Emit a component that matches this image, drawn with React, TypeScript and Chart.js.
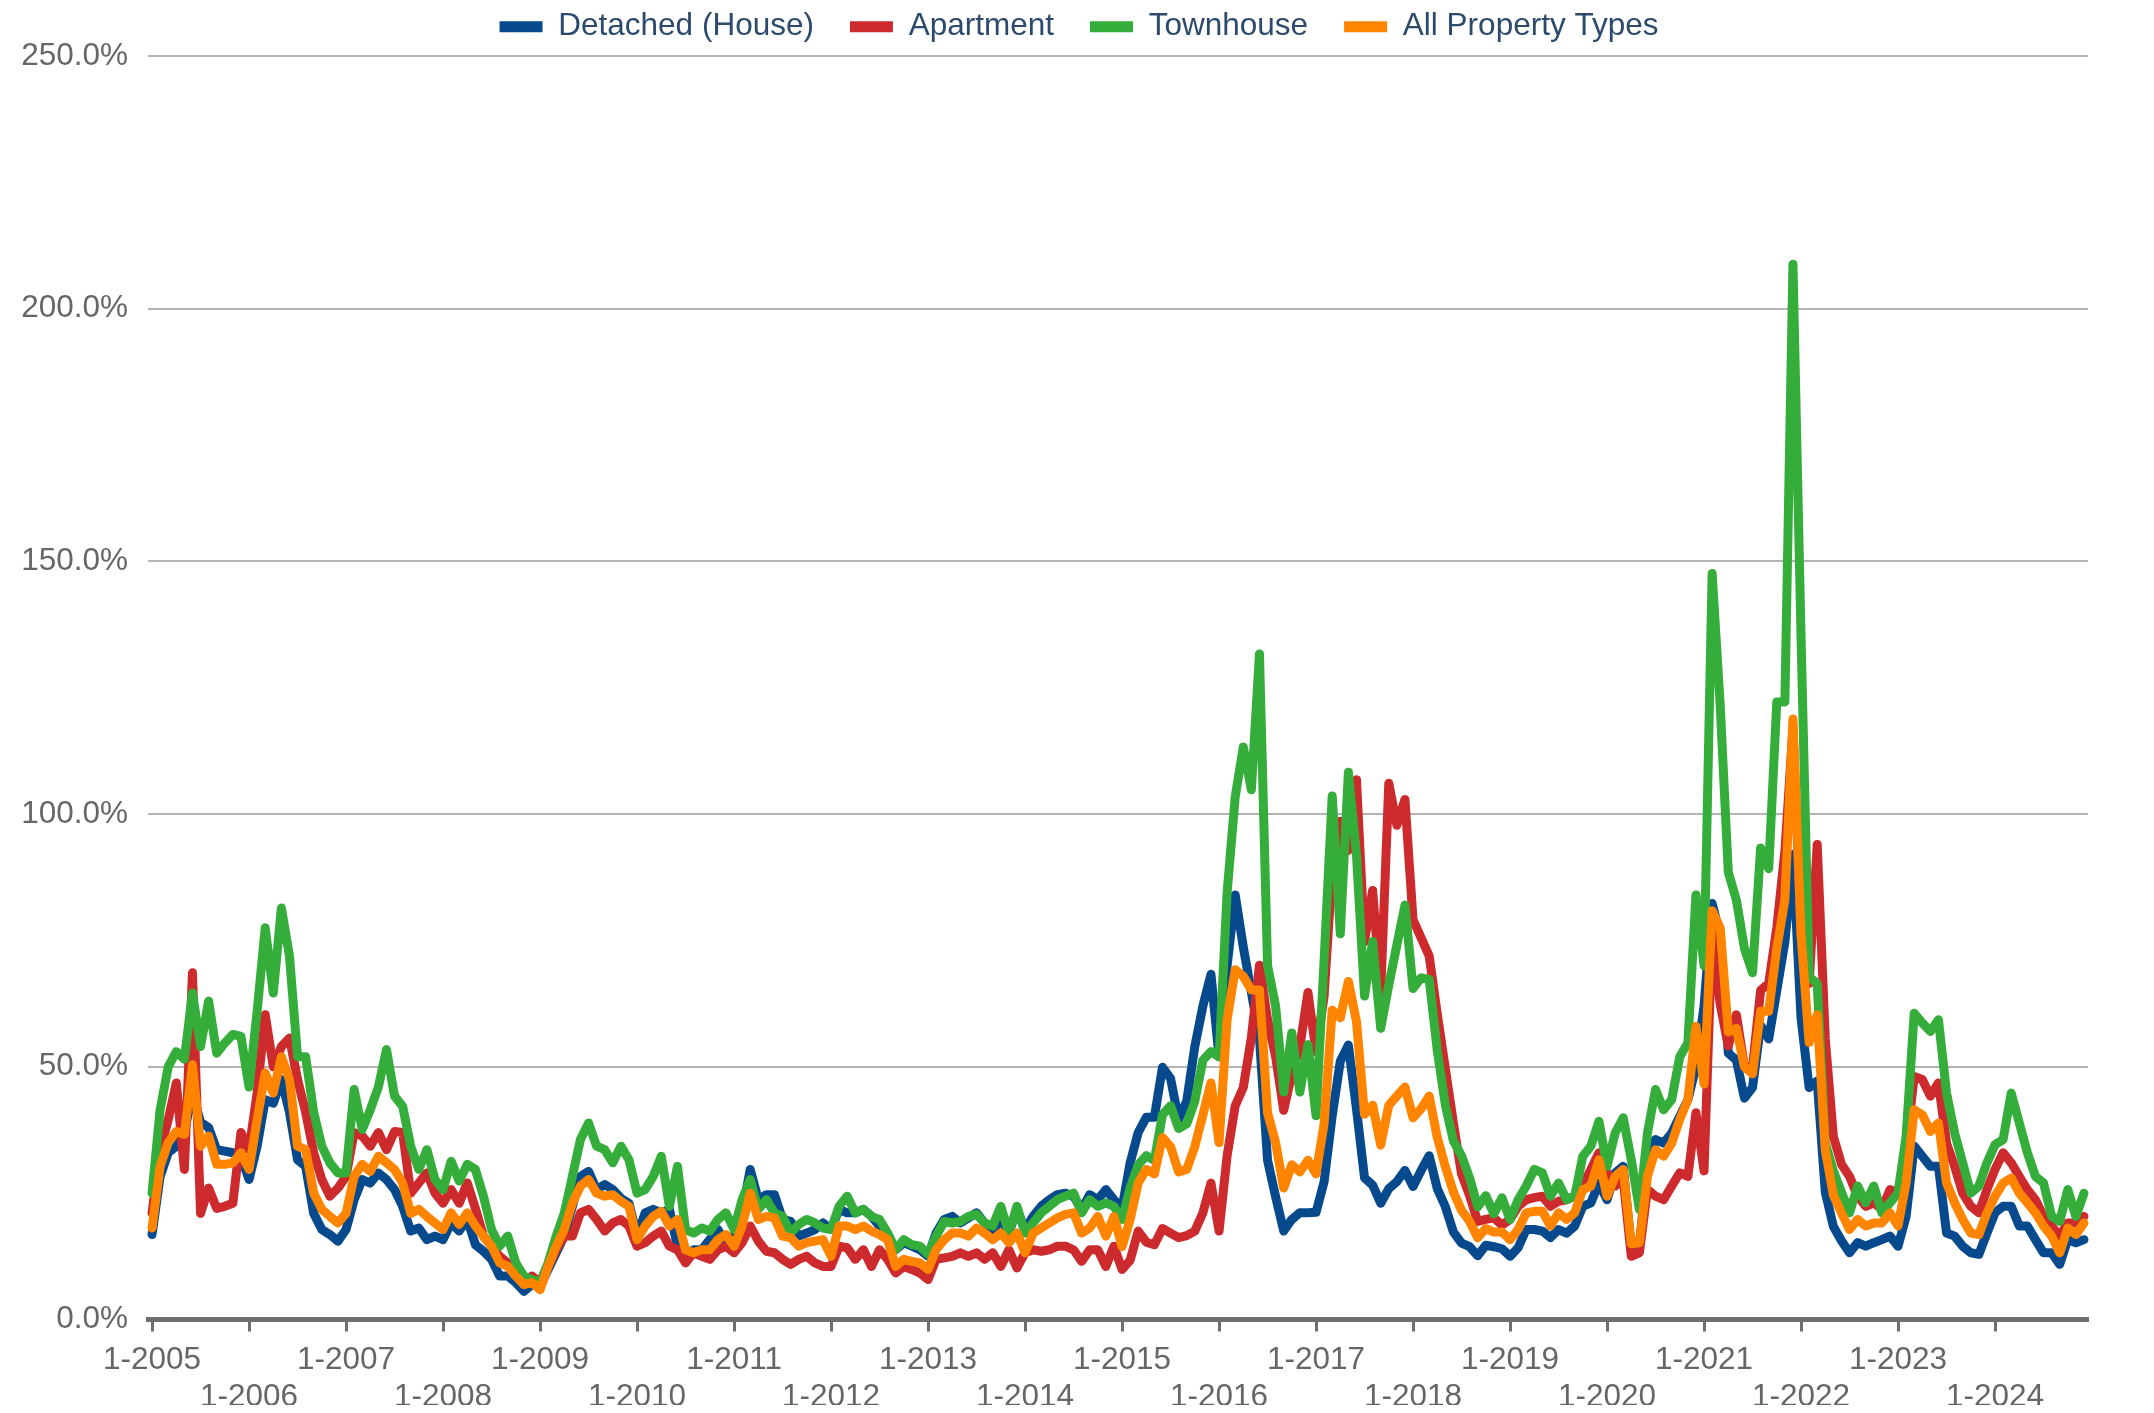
import { useEffect, useRef } from 'react';
import { Chart, registerables } from 'chart.js';

Chart.register(...registerables);

// ---------- data ----------
const FIRST_YEAR = 2005;
const LAST_YEAR = 2024;

const SERIES_NAMES = ['Detached (House)', 'Apartment', 'Townhouse', 'All Property Types'];
const SERIES_COLORS = ['#064a8d', '#cc2a2c', '#35ad3a', '#ff8400'];

// monthly values (%), one row per year Jan..Dec, 2005..2024
const DETACHED = [
  16.8, 28.3, 33, 34.3, 37, 45, 39, 38, 33.6, 33.3, 33, 32.3,
  27.7, 34.3, 43.5, 42.8, 47.5, 41, 31.6, 30.3, 21, 17.8, 16.8, 15.5,
  17.8, 23.7, 27.7, 27, 29, 27.7, 25.7, 22.4, 17.5, 18.1, 15.8, 16.5,
  15.8, 19.1, 17.5, 19.8, 14.8, 13.5, 11.9, 8.6, 8.6, 7.3, 5.6, 6.9,
  6.6, 9.9, 13.2, 16.5, 22.4, 28.3, 29.3, 25.7, 26.7, 25.7, 24, 23,
  16.5, 21.1, 21.8, 21.1, 21.8, 14.5, 12.5, 13.8, 13.8, 15.8, 17.8, 15.2,
  16.5, 21, 29.7, 23.7, 24.7, 24.7, 19.8, 19.4, 16.5, 17.1, 17.8, 19.1,
  17.8, 21.8, 21.1, 21.1, 21.8, 20.4, 18.5, 15.8, 13.8, 15.2, 14.5, 13.8,
  12.5, 17.1, 19.8, 20.4, 19.1, 20.1, 21.1, 19.1, 17.5, 19.8, 17.1, 21.8,
  17.8, 20.4, 22.4, 23.7, 24.7, 25, 24.4, 21.8, 24.7, 23.7, 25.7, 23.7,
  22, 31, 37, 40, 40, 49.9, 47.7, 39.6, 43.2, 54, 62, 68.3,
  52, 70, 84, 73.7, 64.7, 55.7, 31.5, 24.3, 17.5, 19.8, 21.1, 21.1,
  21.2, 27.3, 40.3, 51.1, 54.3, 41.7, 28, 26.6, 23, 25.9, 27.3, 29.5,
  26.3, 29.5, 32.4, 25.9, 22.3, 17.3, 15.1, 14.4, 12.6, 14.7, 14.4, 14,
  12.5, 14.2, 17.8, 17.8, 17.5, 16.2, 17.8, 17.1, 18.5, 22.4, 23.1, 27,
  23.7, 29, 30.3, 14, 14.8, 30.3, 35.6, 34.9, 36.9, 40.2, 43.5, 50,
  62, 82.3, 76.1, 52.7, 51.3, 43.8, 45.9, 58.2, 55.5, 65.1, 74.7, 92,
  59.6, 45.9, 47.2, 25.2, 18.4, 15.6, 13.2, 15.2, 14.5, 15.2, 15.8, 16.5,
  14.5, 20.4, 34.3, 32.3, 30.3, 30.3, 17.1, 16.5, 14.5, 13.2, 12.9, 17.1,
  21.1, 22.4, 22.4, 18.5, 18.5, 15.8, 13.2, 13.2, 10.9, 15.8, 15.2, 15.8,
];

const APARTMENT = [
  21, 33.6, 39.5, 46.8, 29.7, 68.6, 21, 26, 22, 22.4, 23, 37,
  33.6, 44.8, 60.3, 50, 54, 55.7, 47.5, 41, 33, 27.7, 24.4, 26,
  28.3, 37, 36.3, 34.3, 37, 33.6, 37.2, 37, 25, 27, 29, 25,
  23, 25.7, 23, 27, 22, 16.5, 14.5, 12.5, 11.2, 8.6, 7.3, 8.6,
  7.3, 10.5, 13.8, 16.5, 16.5, 21.1, 21.8, 19.8, 17.5, 19.1, 19.8, 18.5,
  14.5, 15.2, 16.5, 17.5, 14.5, 13.8, 11.2, 13.2, 12.5, 11.9, 13.8, 14.5,
  13.2, 15.2, 18.5, 15.5, 13.5, 13.2, 11.9, 10.9, 11.9, 12.5, 11.2, 10.5,
  10.5, 14.5, 14.2, 11.9, 13.8, 10.5, 13.8, 11.9, 9.2, 10.5, 9.9, 9.2,
  7.9, 11.9, 12.2, 12.5, 13.2, 12.5, 13.2, 11.9, 13.2, 10.5, 13.8, 10.2,
  13.2, 13.8, 13.5, 13.8, 14.5, 14.5, 13.8, 11.5, 13.8, 13.8, 10.5, 14.5,
  9.9, 11.7, 17.5, 15.3, 14.8, 18, 17.1, 16.2, 16.6, 17.5, 21.1, 27,
  17.5, 32.4, 42.3, 45.9, 55.8, 70.1, 59.4, 52, 41.4, 48.6, 54, 64.7,
  53, 64, 89, 98.6, 92.8, 106.8, 74.8, 84.9, 64.7, 106.1, 97.8, 102.9,
  79.1, 75.5, 71.9, 60.4, 49.6, 38.8, 28.8, 24.5, 19.4, 19.8, 20.1, 18.7,
  19.8, 22.4, 23.7, 24.1, 24.4, 22.4, 23.4, 23.7, 24.4, 26.4, 29.7, 33,
  29, 26.4, 27.7, 12.5, 13.2, 25.7, 24.4, 23.7, 26.4, 29, 28.3, 40.9,
  29.4, 76.1, 62.4, 54.1, 60.3, 50, 50, 65.1, 66.5, 77.5, 92.6, 117,
  76, 66.5, 94, 55.5, 36.2, 30.7, 28.3, 24.4, 22.4, 23.1, 21.8, 25.7,
  25, 34.3, 48.1, 47.5, 44.2, 46.8, 34.9, 30.3, 25, 22.4, 21.1, 25.7,
  29.7, 33, 31, 28.3, 25.7, 23.7, 20.4, 18.5, 16.5, 19.1, 19.1, 20.4,
];

const TOWNHOUSE = [
  25, 41.5, 50, 53, 51.5, 64.6, 54, 63, 52.7, 54.7, 56.4, 56,
  46, 61, 77.5, 64.6, 81.4, 71.9, 52, 52, 41, 34.3, 31, 29,
  29, 45.5, 37.6, 41.5, 46, 53.4, 44.2, 42.2, 34.3, 29.7, 33.6, 27.7,
  25.7, 31.3, 27.4, 30.7, 29.7, 24.4, 17.8, 14.5, 16.5, 11.2, 8.6, 7.9,
  7.3, 11.2, 16.5, 21.1, 28.3, 35.6, 38.9, 34.3, 33.6, 31, 34.3, 31.6,
  25, 25.7, 28.3, 32.3, 22.4, 30.3, 17.8, 17.1, 18.1, 17.5, 19.8, 21.1,
  17.8, 23.7, 27.7, 21.8, 23.7, 21.1, 20.4, 17.1, 18.8, 19.8, 19.1, 18.1,
  17.8, 22.4, 24.4, 21.1, 21.8, 20.4, 19.8, 17.1, 13.8, 15.8, 14.8, 14.5,
  12.9, 16.5, 19.4, 19.1, 19.4, 20.4, 20.8, 19.1, 18.5, 22.4, 17.1, 22.4,
  17.1, 19.1, 21.1, 22.4, 23.7, 24.4, 25, 21.1, 23.7, 22.4, 23.1, 22.4,
  19.8, 26, 30.6, 32.4, 31.5, 40.5, 42.3, 37.8, 38.7, 43.2, 51.3, 53,
  52, 84.5, 103.4, 113.3, 104.8, 131.7, 70, 62, 45, 56.7, 45, 54.4,
  40.3, 71.2, 103.6, 76.3, 108.3, 92, 64, 74.8, 57.6, 66.2, 74.1, 82,
  65.5, 67.6, 67.3, 53.2, 42.4, 35.3, 32.4, 28, 22.3, 24.5, 20.9, 24.1,
  19.8, 23.7, 26.4, 29.7, 29, 24.4, 27, 23.7, 24.4, 32.3, 34.3, 39.2,
  30.3, 36.9, 39.9, 31.6, 21.8, 36.9, 45.5, 41.5, 43.5, 52, 54.7, 84,
  70, 147.6, 121.5, 88.5, 83, 73.4, 68.6, 93.3, 89.2, 122.2, 122.2, 208.8,
  135, 67.8, 66.5, 34.9, 29.4, 25.2, 21.1, 26.4, 23.1, 26.4, 21.1, 23.1,
  25, 36.3, 60.6, 58.7, 57, 59.3, 44.8, 36.9, 31, 25, 26.4, 31,
  34.6, 35.6, 44.8, 38.9, 33, 28.3, 27, 20.4, 19.4, 25.7, 20.4, 25,
];

const ALL_TYPES = [
  18.1, 30.3, 35, 37.2, 36.6, 50.4, 34.3, 36.3, 30.7, 30.7, 31, 33,
  29.7, 39.5, 48.8, 44.8, 52, 47.5, 34.3, 33.6, 25, 21.8, 20.4, 19.1,
  21, 28.3, 30.7, 29.3, 32.3, 31, 29.7, 27, 21, 21.8, 20.4, 19.1,
  17.8, 21.1, 18.8, 21.1, 18.5, 16.5, 14.5, 11.2, 10.5, 8.6, 6.9, 7.3,
  5.9, 10.5, 14.5, 17.8, 23, 26.4, 27.7, 25, 24.4, 24.7, 23.4, 22.4,
  15.8, 18.5, 20.4, 21.4, 18.5, 19.8, 13.8, 13.2, 13.8, 13.8, 15.8, 16.8,
  14.5, 18.5, 25, 19.8, 20.4, 20.1, 16.5, 16.2, 14.5, 15.2, 15.5, 15.8,
  12.5, 18.5, 18.5, 17.8, 18.5, 17.5, 16.8, 15.8, 10.5, 11.9, 11.5, 11.2,
  9.9, 13.8, 15.8, 17.1, 17.1, 16.5, 18.1, 17.1, 15.8, 17.1, 15.2, 17.1,
  13.2, 17.1, 18.1, 19.1, 20.1, 20.8, 21.1, 17.1, 18.1, 20.4, 16.5, 20.4,
  14.4, 19.8, 27, 29.7, 28.8, 36, 34.2, 29.2, 29.7, 34.2, 40.5, 46.8,
  35, 59.4, 69.2, 67.9, 65.2, 65.2, 40.9, 35, 26, 30.6, 29.2, 31.5,
  28.8, 38.8, 61.2, 59.7, 66.9, 59, 40.6, 42.4, 34.5, 42.4, 44.2, 46,
  39.9, 41.7, 44.2, 36, 30.2, 25.2, 21.6, 19.4, 16.2, 18, 17.3, 17.3,
  15.8, 17.8, 21.1, 21.4, 21.4, 18.5, 21.1, 19.8, 21.1, 25.7, 26.4, 31.6,
  24.4, 28.3, 29.7, 15, 15.2, 28.3, 33.6, 32.3, 34.9, 39.6, 43.5, 58,
  46.6, 80.9, 77.5, 56.9, 57.6, 50, 48.6, 61, 61, 73.4, 83, 118.8,
  76.1, 54.8, 60.3, 33.5, 24.6, 21.1, 17.8, 19.8, 18.5, 19.1, 19.1, 21.1,
  18.5, 27, 41.5, 40.5, 37.2, 38.9, 27, 23.1, 19.8, 17.1, 16.8, 21.1,
  24.4, 27, 28, 25, 23.1, 21.1, 18.5, 16.5, 13.2, 18.1, 16.8, 19.1,
];

const Y_MIN = 0;
const Y_MAX = 250;
const Y_STEP = 50;

// category labels "M-YYYY"
const MONTH_LABELS: string[] = [];
for (let y = FIRST_YEAR; y <= LAST_YEAR; y++) {
  for (let m = 1; m <= 12; m++) MONTH_LABELS.push(`${m}-${y}`);
}

// ---------- styling ----------
const FONT_FAMILY = "'Liberation Sans', Arial, Helvetica, sans-serif";
const FONT_SIZE = 31.5;
const TICK_COLOR = '#666666';
const LEGEND_COLOR = '#2c4a6c';
const AXIS_COLOR = '#6e6e6e';
const GRID_COLOR = '#b4b4b4';

const LEGEND_HEIGHT = 48;
const LEGEND_DX = 24;
const LEGEND_DY = -33;
const Y_AXIS_WIDTH = 126;
const X_AXIS_HEIGHT = 85.5;

const legendTweak = {
  id: 'legendTweak',
  beforeLayout(chart: any) {
    const lg = chart.legend;
    if (!lg || lg.__tweaked) return;
    lg.__tweaked = true;
    const fit = lg.fit;
    lg.fit = function () {
      fit.call(this);
      this.height = LEGEND_HEIGHT;
    };
    const draw = lg.draw;
    lg.draw = function () {
      const { top, left, right } = this;
      this.top = top + LEGEND_DY;
      this.left = left + LEGEND_DX;
      this.right = right + LEGEND_DX;
      draw.call(this);
      this.top = top;
      this.left = left;
      this.right = right;
    };
  },
};

export default function App() {
  const canvasRef = useRef<HTMLCanvasElement | null>(null);

  useEffect(() => {
    if (!canvasRef.current) return;
    const seriesData = [DETACHED, APARTMENT, TOWNHOUSE, ALL_TYPES];
    const drawOrder = [3, 2, 1, 0]; // orange on top, blue at bottom
    const font = { family: FONT_FAMILY, size: FONT_SIZE };

    const chart = new Chart(canvasRef.current, {
      type: 'line',
      data: {
        labels: MONTH_LABELS,
        datasets: SERIES_NAMES.map((name, i) => ({
          label: name,
          data: seriesData[i],
          borderColor: SERIES_COLORS[i],
          backgroundColor: SERIES_COLORS[i],
          borderWidth: 9,
          pointRadius: 0,
          pointHoverRadius: 0,
          tension: 0,
          fill: false,
          borderJoinStyle: 'round',
          borderCapStyle: 'round',
          order: drawOrder[i],
        })),
      },
      options: {
        animation: false,
        responsive: true,
        maintainAspectRatio: false,
        devicePixelRatio: 1,
        layout: { padding: { top: 0, left: 14, right: 58, bottom: 0 } },
        plugins: {
          tooltip: { enabled: false },
          legend: {
            display: true,
            position: 'top',
            labels: {
              font,
              color: LEGEND_COLOR,
              boxWidth: 43,
              boxHeight: 11,
              padding: 36,
              sort: (a: any, b: any) => a.datasetIndex - b.datasetIndex,
              generateLabels: (c: any) =>
                (Chart as any).defaults.plugins.legend.labels
                  .generateLabels(c)
                  .map((l: any) => ({ ...l, lineWidth: 0 })),
            },
          },
        },
        scales: {
          x: {
            type: 'category',
            offset: true,
            afterFit: (scale: any) => {
              scale.height = X_AXIS_HEIGHT;
            },
            grid: {
              offset: false,
              drawOnChartArea: false,
              drawTicks: true,
              tickLength: 12,
              tickWidth: 3,
              tickColor: (ctx: any) => (ctx.index % 12 === 0 ? AXIS_COLOR : 'rgba(0,0,0,0)'),
            },
            border: { display: true, color: AXIS_COLOR, width: 5 },
            ticks: {
              autoSkip: false,
              maxRotation: 0,
              minRotation: 0,
              padding: 9.6,
              color: TICK_COLOR,
              font,
              callback: (_v: any, index: number) => {
                if (index % 12 !== 0) return '';
                const label = MONTH_LABELS[index];
                return (index / 12) % 2 === 0 ? [label] : ['', label];
              },
            },
          },
          y: {
            min: Y_MIN,
            max: Y_MAX,
            afterFit: (scale: any) => {
              scale.width = Y_AXIS_WIDTH;
            },
            grid: { color: GRID_COLOR, lineWidth: 2, drawTicks: false },
            border: { display: false },
            ticks: {
              stepSize: Y_STEP,
              padding: 20,
              color: TICK_COLOR,
              font,
              callback: (v: any) => `${Number(v).toFixed(1)}%`,
            },
          },
        },
      },
      plugins: [legendTweak],
    } as any);

    return () => chart.destroy();
  }, []);

  return (
    <div style={{ position: 'relative', width: '100%', height: '1397px' }}>
      <canvas ref={canvasRef} />
    </div>
  );
}
